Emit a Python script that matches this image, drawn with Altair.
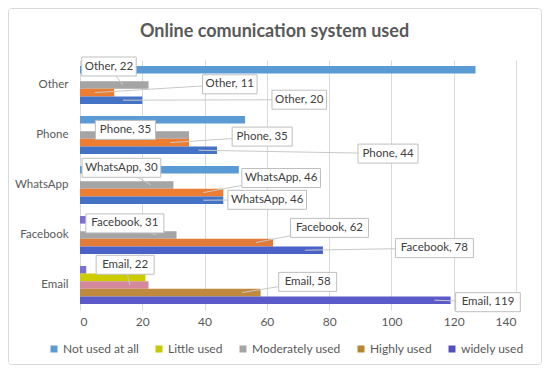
import altair as alt
import pandas as pd

# ---------------- data ----------------
categories = ["Other", "Phone", "WhatsApp", "Facebook", "Email"]  # top to bottom
series = ["Not used at all", "Little used", "Moderately used", "Highly used", "widely used"]
not_used = [127, 53, 51, 2, 2]
little_used = [0, 0, 0, 0, 21]
moderately_used = [22, 35, 30, 31, 22]
highly_used = [11, 35, 46, 62, 58]
widely_used = [20, 44, 46, 78, 119]
labelled_series = ["Moderately used", "Highly used", "widely used"]
title_text = "Online comunication system used"

# ---------------- styles ----------------
legend_colors = ["#5b9bd5", "#c8c800", "#a5a5a5", "#b8862e", "#5050c0"]
default_bar_colors = ["#5b9bd5", "#c8c800", "#a5a5a5", "#ed7d31", "#4472c4"]
bar_color_override = {
    ("Facebook", "Not used at all"): "#7b6fd6",
    ("Facebook", "Highly used"): "#e07b39",
    ("Facebook", "widely used"): "#4a62c8",
    ("Email", "Not used at all"): "#7b6fd6",
    ("Email", "Little used"): "#cccc00",
    ("Email", "Moderately used"): "#d4899a",
    ("Email", "Highly used"): "#c08a3e",
    ("Email", "widely used"): "#5a5ac8",
}
# label callout placement (per category, for the three labelled series)
label_cx = [[9.3, 48.1, 70.4], [14.6, 58.5, 98.9], [13.3, 64.6, 60.1], [14.4, 80.1, 113.8], [14.5, 73.1, 131.0]]
label_dy = [[-18.5, -0.7, 14.7], [-5.1, 1.6, 18.6], [-17.2, -7.0, 14.8], [-11.6, -7.1, 13.1], [-20.2, -3.1, 17.2]]
leader_tx = [[13.8, 4.7, 13.8], [22.5, 29.0, 38.0], [22.8, 39.6, 39.6], [24.5, 56.5, 72.2], [16.0, 52.0, 113.8]]

TOTAL_W, TOTAL_H = 534, 357
W, H = 436, 250
PAD_L, PAD_T = 72, 52
STEP = H / len(categories)
P_INNER = 0.24
SLOT = STEP * (1 - P_INNER) / len(series)
PX_PER_UNIT = W / 140.0
FONT = "Lato"
GREY_TXT = "#595959"
LABEL_FS = 11.5


def text_width(s, fs):
    w = 0.0
    for ch in s:
        if ch in "ilt,. fjr":
            w += 0.28
        elif ch in "mwMW":
            w += 0.82
        elif ch.isupper():
            w += 0.64
        elif ch.isdigit():
            w += 0.58
        else:
            w += 0.52
    return w * fs


values_by_series = [not_used, little_used, moderately_used, highly_used, widely_used]

rows = []
for si, s in enumerate(series):
    for ci, c in enumerate(categories):
        rows.append({
            "category": c, "series": s, "value": values_by_series[si][ci],
            "barcolor": bar_color_override.get((c, s), default_bar_colors[si]),
        })
df_bars = pd.DataFrame(rows)

lab_rows = []
for ci, c in enumerate(categories):
    for li, s in enumerate(labelled_series):
        si = series.index(s)
        v = values_by_series[si][ci]
        text = f"{c}, {v}"
        w_px = text_width(text, LABEL_FS) + 9
        half_w = w_px / 2 / PX_PER_UNIT
        cy = ci + 0.5 + label_dy[ci][li] / STEP
        half_h = 9.5 / STEP
        bar_y = ci + 0.5 + (si - 2) * SLOT / STEP
        lab_rows.append({
            "label": text, "lx": label_cx[ci][li], "ly": cy,
            "bx1": label_cx[ci][li] - half_w, "bx2": label_cx[ci][li] + half_w,
            "by1": cy - half_h, "by2": cy + half_h,
            "tx": leader_tx[ci][li], "ty": bar_y,
        })
df_lab = pd.DataFrame(lab_rows)

xscale = alt.Scale(domain=[0, 140], nice=False)
x_enc = alt.X("value:Q", scale=xscale,
              axis=alt.Axis(values=list(range(0, 141, 20)), title=None, grid=True,
                            gridColor="#d9d9d9", domain=False, ticks=False,
                            labelFont=FONT, labelFontSize=12, labelColor=GREY_TXT,
                            labelPadding=6))

bars = alt.Chart(df_bars).mark_bar().encode(
    y=alt.Y("category:N", sort=categories,
            scale=alt.Scale(paddingInner=P_INNER, paddingOuter=P_INNER / 2),
            axis=alt.Axis(title=None, ticks=False, domain=False, labelFont=FONT,
                          labelFontSize=11.5, labelColor=GREY_TXT, labelPadding=12)),
    yOffset=alt.YOffset("series:N", sort=series,
                        scale=alt.Scale(paddingInner=0, paddingOuter=0)),
    x=x_enc,
    color=alt.Color("barcolor:N", scale=None),
)

legend_layer = alt.Chart(df_bars).mark_square(opacity=0, size=0).encode(
    color=alt.Color("series:N", sort=series,
                    scale=alt.Scale(domain=series, range=legend_colors),
                    legend=alt.Legend(title=None, orient="none", direction="horizontal",
                                      legendX=-32, legendY=283,
                                      symbolType="square", symbolSize=49,
                                      symbolOpacity=1, symbolStrokeWidth=0,
                                      labelFont=FONT, labelFontSize=12,
                                      labelColor=GREY_TXT, labelOffset=3,
                                      columnPadding=14)),
)

ys = alt.Scale(domain=[len(categories), 0])
leaders = alt.Chart(df_lab).mark_rule(color="#c8c8c8", strokeWidth=1).encode(
    x=alt.X("lx:Q", scale=xscale), x2="tx:Q",
    y=alt.Y("ly:Q", scale=ys, axis=None), y2="ty:Q",
)
boxes = alt.Chart(df_lab).mark_rect(fill="white", stroke="#bfbfbf", strokeWidth=1).encode(
    x=alt.X("bx1:Q", scale=xscale), x2="bx2:Q",
    y=alt.Y("by1:Q", scale=ys, axis=None), y2="by2:Q",
)
texts = alt.Chart(df_lab).mark_text(font=FONT, fontSize=LABEL_FS, color="#404040",
                                    baseline="middle", align="center").encode(
    x=alt.X("lx:Q", scale=xscale),
    y=alt.Y("ly:Q", scale=ys, axis=None),
    text="label:N",
)

frame = alt.Chart(alt.Data(values=[{}])).mark_rect(
    fill="white", fillOpacity=0, stroke="#d9d9d9", strokeWidth=1, cornerRadius=3
).encode(
    x=alt.value(-PAD_L + 0.5), x2=alt.value(TOTAL_W - PAD_L - 0.5),
    y=alt.value(-PAD_T + 0.5), y2=alt.value(TOTAL_H - PAD_T - 0.5),
)

title = alt.Chart(alt.Data(values=[{"t": title_text}])).mark_text(
    font=FONT, fontSize=18, fontWeight="bold", color=GREY_TXT,
    align="center", baseline="alphabetic"
).encode(
    x=alt.value(TOTAL_W / 2 - 0.5 - PAD_L), y=alt.value(29 - PAD_T), text="t:N",
)

chart = alt.layer(frame, bars, legend_layer, leaders, boxes, texts, title).resolve_scale(
    y="independent"
).properties(
    width=W, height=H,
    autosize=alt.AutoSizeParams(type="none"),
    padding={"left": PAD_L, "top": PAD_T, "right": TOTAL_W - PAD_L - W,
             "bottom": TOTAL_H - PAD_T - H},
).configure_view(stroke=None)

chart.save("out.html", embed_options={"renderer": "svg", "actions": False})
